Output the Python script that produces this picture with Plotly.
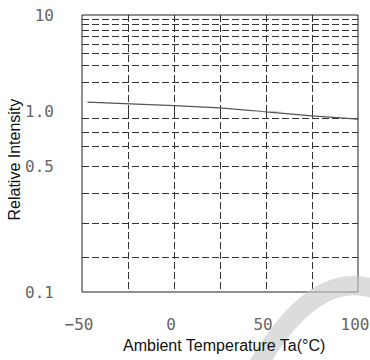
import plotly.graph_objects as go
from plotly.subplots import make_subplots

# ---- data ----
temperature = [-47, -25, 0, 25, 50, 75, 100]
rel_intensity = [1.26, 1.22, 1.16, 1.10, 1.00, 0.95, 0.91]

x_tick_vals = [-50, -25, 0, 25, 50, 75, 100]
x_tick_text = ["\u221250", "", "0", "", "50", "", "100"]

upper_grid_vals = [2, 3, 4, 5, 6, 7, 8, 9, 10]
upper_grid_text = ["", "", "", "", "", "", "", "", "10"]

lower_grid_vals = [0.1, 0.155, 0.24, 0.35, 0.5, 0.64, 0.77, 0.92, 1.0]
lower_grid_text = ["0.1", "", "", "", "0.5", "", "", "", "1.0"]

x_title = "Ambient Temperature Ta(°C)"
y_title = "Relative Intensity"

# ---- layout ----
split = 0.6505  # fraction of plot height used by the 0.1-1.0 decade
fig = make_subplots(rows=2, cols=1, shared_xaxes=True, vertical_spacing=0,
                    row_heights=[1 - split, split])

line_style = dict(color="#555555", width=1.3)
for r in (1, 2):
    fig.add_trace(go.Scatter(x=temperature, y=rel_intensity, mode="lines",
                             line=line_style, showlegend=False, hoverinfo="skip"),
                  row=r, col=1)

grid = dict(showgrid=True, gridcolor="#333333", gridwidth=1, griddash="7px,3px",
            zeroline=False, showline=False, ticks="", automargin=False)
tick_font = dict(family="DejaVu Sans Mono", size=16, color="#666666")

fig.update_xaxes(range=[-50, 100], tickmode="array", tickvals=x_tick_vals, **grid)
fig.update_xaxes(showticklabels=False, row=1, col=1)
fig.update_xaxes(ticktext=x_tick_text, tickfont=tick_font, ticklabelstandoff=21,
                 ticklabelshift=-3, row=2, col=1)

fig.update_yaxes(type="log", range=[0, 1], tickmode="array", tickvals=upper_grid_vals,
                 ticktext=upper_grid_text, tickfont=tick_font, ticklabelstandoff=27,
                 row=1, col=1, **grid)
fig.update_yaxes(type="log", range=[-1, 0], tickmode="array", tickvals=lower_grid_vals,
                 ticktext=lower_grid_text, tickfont=tick_font, ticklabelstandoff=27,
                 row=2, col=1, **grid)

# frame around the plotting area
fig.add_shape(type="rect", xref="paper", yref="paper", x0=0, x1=1, y0=0, y1=1,
              line=dict(color="#222222", width=1), layer="above")

# light watermark arc (bottom right)
fig.add_shape(type="path", xref="paper", yref="paper",
              path="M 0.627,-0.283 Q 0.844,0.0965 1.0725,0.006",
              line=dict(color="rgb(201,201,201)", width=19), opacity=0.64,
              layer="above")

title_font = dict(family="Liberation Sans, Arial", size=16, color="#111111")
fig.add_annotation(text=x_title, xref="paper", yref="paper", x=0.516, y=-0.194,
                   showarrow=False, font=title_font, xanchor="center", yanchor="middle")
fig.add_annotation(text=y_title, xref="paper", yref="paper", x=-0.2446, y=0.48,
                   showarrow=False, font=title_font, textangle=-90,
                   xanchor="center", yanchor="middle")

fig.update_layout(width=370, height=360, margin=dict(l=82, r=12, t=15, b=68),
                  plot_bgcolor="white", paper_bgcolor="white", showlegend=False)

# remove the default 8px page margin so the figure fills the window
fig.write_html("out.html", config={"displayModeBar": False},
               post_script="document.body.style.margin='0';")
